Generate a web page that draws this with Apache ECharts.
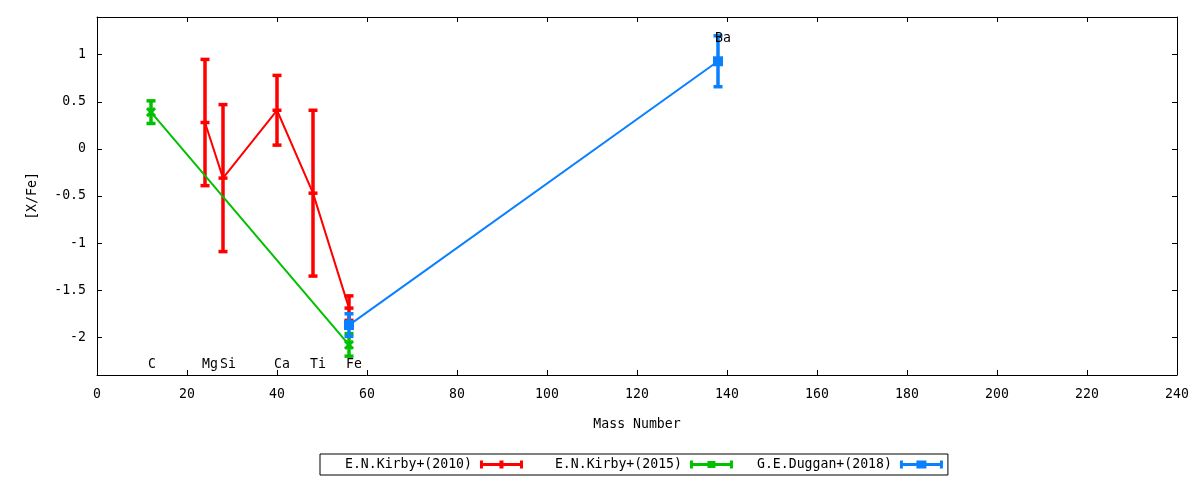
<!DOCTYPE html>
<html>
<head>
<meta charset="utf-8">
<script src="https://cdn.jsdelivr.net/npm/echarts@6/dist/echarts.min.js"></script>
<style>
  html, body { margin: 0; padding: 0; background: #fff; }
  #chart { width: 1200px; height: 480px; }
</style>
</head>
<body>
<div id="chart"></div>
<script>
// Kirby+ 2010
var mass2010 = [24, 28, 40, 48, 56];
var xfe2010 = [0.28, -0.31, 0.41, -0.47, -1.69];
var err2010 = [0.67, 0.78, 0.37, 0.88, 0.13];

// Kirby+ 2015
var mass2015 = [12, 56];
var xfe2015 = [0.39, -2.08];
var err2015 = [0.12, 0.12];

// Duggan+ 2018
var mass2018 = [56, 138];
var xfe2018 = [-1.87, 0.93];
var err2018 = [0.12, 0.27];

// element labels
var elemNames = ['C', 'Mg', 'Si', 'Ca', 'Ti', 'Fe', 'Ba'];
var elemMass = [12, 24, 28, 40, 48, 56, 138];
var elemY = [-2.29, -2.29, -2.29, -2.29, -2.29, -2.29, 1.17];

var yTicks = [-2, -1.5, -1, -0.5, 0, 0.5, 1];
var seriesNames = ['E.N.Kirby+(2010)', 'E.N.Kirby+(2015)', 'G.E.Duggan+(2018)'];

var FONT = 'DejaVu Sans Mono';
var FS = 13.2;

function makeRows(xs, ys, es) {
    var rows = [];
    xs.forEach(function(x, i) {
        rows.push([x, ys[i], es[i]]);
    });
    return rows;
}

function makeLine(xs, ys) {
    var rows = [];
    xs.forEach(function(x, i) {
        rows.push([x, ys[i]]);
    });
    return rows;
}

// error bar + caps + point marker
function errorRenderer(color, marker) {
    return function(params, api) {
        var x = api.value(0), y = api.value(1), e = api.value(2);
        var top = api.coord([x, y + e]);
        var bot = api.coord([x, y - e]);
        var mid = api.coord([x, y]);
        var st = { stroke: color, lineWidth: 3.5 };
        var capW = 4.5;
        var children = [
            { type: 'line', shape: { x1: top[0], y1: top[1], x2: bot[0], y2: bot[1] }, style: st },
            { type: 'line', shape: { x1: top[0] - capW, y1: top[1], x2: top[0] + capW, y2: top[1] }, style: st },
            { type: 'line', shape: { x1: bot[0] - capW, y1: bot[1], x2: bot[0] + capW, y2: bot[1] }, style: st }
        ];
        if (marker === 'plus') {
            children.push({ type: 'line', shape: { x1: mid[0] - 4.5, y1: mid[1], x2: mid[0] + 4.5, y2: mid[1] }, style: st });
        } else if (marker === 'cross') {
            children.push({ type: 'line', shape: { x1: mid[0] - 4, y1: mid[1] - 4, x2: mid[0] + 4, y2: mid[1] + 4 }, style: { stroke: color, lineWidth: 3 } });
            children.push({ type: 'line', shape: { x1: mid[0] - 4, y1: mid[1] + 4, x2: mid[0] + 4, y2: mid[1] - 4 }, style: { stroke: color, lineWidth: 3 } });
        } else {
            children.push({ type: 'rect', shape: { x: mid[0] - 5, y: mid[1] - 5, width: 10, height: 10 }, style: { fill: color } });
        }
        return { type: 'group', children: children };
    };
}

// legend icons: the leading zero-area segment keeps a 3px blank before the bar
var iconBase = 'M0 4L0.01 4Z M3 2.5L46 2.5L46 5.5L3 5.5Z M3 0L6 0L6 8L3 8Z M43 0L46 0L46 8L43 8Z ';
var icons = [
    'path://' + iconBase + 'M22.5 0L26.5 0L26.5 8L22.5 8Z',
    'path://' + iconBase + 'M20.5 0.5L28.5 0.5L28.5 7.5L20.5 7.5Z',
    'path://' + iconBase + 'M19.5 0L29.5 0L29.5 8L19.5 8Z'
];

var colors = ['#ff0000', '#00c000', '#0a80ff'];
var markers = ['plus', 'cross', 'square'];
var sets = [
    [mass2010, xfe2010, err2010],
    [mass2015, xfe2015, err2015],
    [mass2018, xfe2018, err2018]
];

var series = [];
sets.forEach(function(s, i) {
    series.push({
        name: seriesNames[i],
        type: 'line',
        data: makeLine(s[0], s[1]),
        showSymbol: false,
        lineStyle: { color: colors[i], width: 2 },
        itemStyle: { color: colors[i] },
        z: 2 + i
    });
    series.push({
        name: seriesNames[i],
        type: 'custom',
        data: makeRows(s[0], s[1], s[2]),
        renderItem: errorRenderer(colors[i], markers[i]),
        itemStyle: { color: colors[i] },
        z: 2 + i
    });
});

var labelRows = [];
elemNames.forEach(function(n, i) {
    labelRows.push([elemMass[i], elemY[i], n]);
});
series.push({
    type: 'custom',
    data: labelRows,
    z: 10,
    renderItem: function(params, api) {
        var p = api.coord([api.value(0), api.value(1)]);
        return {
            type: 'text',
            x: p[0] - 3,
            y: p[1],
            style: {
                text: labelRows[params.dataIndex][2],
                fill: '#000',
                font: FS + 'px "' + FONT + '"',
                align: 'left',
                verticalAlign: 'middle'
            }
        };
    }
});

var axisLineStyle = { onZero: false, lineStyle: { color: '#000', width: 1 } };
var tickStyle = { inside: true, length: 5, lineStyle: { color: '#000' } };

var chart = echarts.init(document.getElementById('chart'));
var option = {
    animation: false,
    textStyle: { fontFamily: FONT, color: '#000' },
    grid: { left: 97, right: 23, top: 17, bottom: 105 },
    legend: {
        left: 320,
        top: 454,
        align: 'right',
        itemWidth: 46,
        itemHeight: 8,
        itemGap: 24,
        padding: [4, 5, 4, 17],
        borderColor: '#000',
        borderWidth: 1,
        borderRadius: 0,
        textStyle: { fontFamily: FONT, fontSize: FS, color: '#000' },
        // gnuplot right-justifies the keys in equal columns
        formatter: function(name) {
            return name.length < 17 ? ' ' + name : name;
        },
        data: seriesNames.map(function(n, i) {
            return { name: n, icon: icons[i], itemStyle: { color: colors[i], borderWidth: 0 } };
        })
    },
    xAxis: [{
        type: 'value',
        min: 0,
        max: 240,
        interval: 20,
        name: 'Mass Number',
        nameLocation: 'middle',
        nameGap: 43,
        nameTextStyle: { fontFamily: FONT, fontSize: FS, color: '#000' },
        axisLine: axisLineStyle,
        axisTick: tickStyle,
        axisLabel: { fontFamily: FONT, fontSize: FS, color: '#000', margin: 13 },
        splitLine: { show: false }
    }, {
        type: 'value',
        position: 'top',
        min: 0,
        max: 240,
        interval: 20,
        axisLine: axisLineStyle,
        axisTick: tickStyle,
        axisLabel: { show: false },
        splitLine: { show: false }
    }],
    yAxis: [{
        type: 'value',
        min: -2.4,
        max: 1.4,
        name: '[X/Fe]',
        nameLocation: 'middle',
        nameGap: 58,
        nameRotate: 90,
        nameTextStyle: { fontFamily: FONT, fontSize: FS, color: '#000' },
        axisLine: { show: true, onZero: false, lineStyle: { color: '#000', width: 1 } },
        axisTick: { show: true, inside: true, length: 5, customValues: yTicks, lineStyle: { color: '#000' } },
        axisLabel: { fontFamily: FONT, fontSize: FS, color: '#000', margin: 11, customValues: yTicks },
        splitLine: { show: false }
    }, {
        type: 'value',
        position: 'right',
        min: -2.4,
        max: 1.4,
        axisLine: { show: true, onZero: false, lineStyle: { color: '#000', width: 1 } },
        axisTick: { show: true, inside: true, length: 5, customValues: yTicks, lineStyle: { color: '#000' } },
        axisLabel: { show: false, customValues: yTicks },
        splitLine: { show: false }
    }],
    series: series
};
chart.setOption(option);
</script>
</body>
</html>
